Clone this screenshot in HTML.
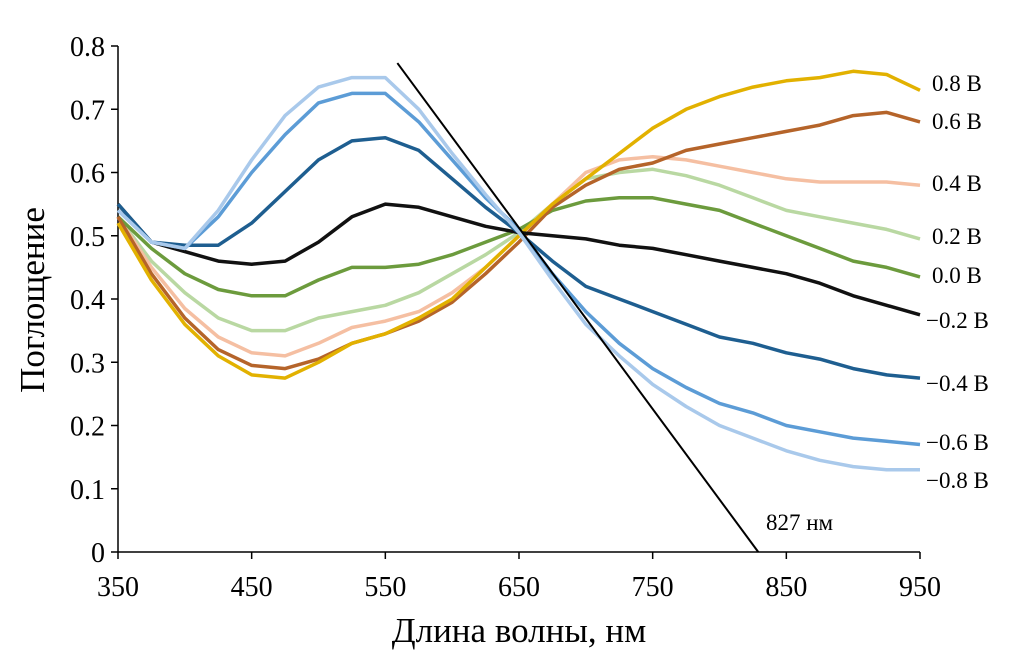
<!DOCTYPE html>
<html><head><meta charset="utf-8"><style>
body{margin:0;background:#fff;}
svg text{font-family:"Liberation Serif","DejaVu Serif",serif;fill:#000;}
</style></head><body>
<svg id="chart" width="1023" height="658" viewBox="0 0 1023 658" xmlns="http://www.w3.org/2000/svg">
<g id="axes"></g>
<g id="series"></g>
<g id="labels"></g>
</svg>
<script>
const wavelengths=[350,375,400,425,450,475,500,525,550,575,600,625,650,675,700,725,750,775,800,825,850,875,900,925,950];
const seriesNames=["0.8 В","0.6 В","0.4 В","0.2 В","0.0 В","−0.2 В","−0.4 В","−0.6 В","−0.8 В"];
const s08=[0.52,0.43,0.36,0.31,0.28,0.275,0.30,0.33,0.345,0.37,0.40,0.45,0.50,0.55,0.59,0.63,0.67,0.70,0.72,0.735,0.745,0.75,0.76,0.755,0.73];
const s06=[0.53,0.44,0.37,0.32,0.295,0.29,0.305,0.33,0.345,0.365,0.395,0.44,0.49,0.545,0.58,0.605,0.615,0.635,0.645,0.655,0.665,0.675,0.69,0.695,0.68];
const s04=[0.53,0.45,0.385,0.34,0.315,0.31,0.33,0.355,0.365,0.38,0.41,0.45,0.50,0.55,0.60,0.62,0.625,0.62,0.61,0.60,0.59,0.585,0.585,0.585,0.58];
const s02=[0.53,0.46,0.41,0.37,0.35,0.35,0.37,0.38,0.39,0.41,0.44,0.47,0.505,0.55,0.59,0.60,0.605,0.595,0.58,0.56,0.54,0.53,0.52,0.51,0.495];
const s00=[0.53,0.48,0.44,0.415,0.405,0.405,0.43,0.45,0.45,0.455,0.47,0.49,0.51,0.54,0.555,0.56,0.56,0.55,0.54,0.52,0.50,0.48,0.46,0.45,0.435];
const sm02=[0.55,0.49,0.475,0.46,0.455,0.46,0.49,0.53,0.55,0.545,0.53,0.515,0.505,0.50,0.495,0.485,0.48,0.47,0.46,0.45,0.44,0.425,0.405,0.39,0.375];
const sm04=[0.55,0.49,0.485,0.485,0.52,0.57,0.62,0.65,0.655,0.635,0.59,0.545,0.505,0.46,0.42,0.40,0.38,0.36,0.34,0.33,0.315,0.305,0.29,0.28,0.275];
const sm06=[0.54,0.49,0.48,0.53,0.60,0.66,0.71,0.725,0.725,0.68,0.62,0.56,0.51,0.44,0.38,0.33,0.29,0.26,0.235,0.22,0.20,0.19,0.18,0.175,0.17];
const sm08=[0.54,0.49,0.48,0.54,0.62,0.69,0.735,0.75,0.75,0.70,0.63,0.565,0.505,0.43,0.36,0.31,0.265,0.23,0.20,0.18,0.16,0.145,0.135,0.13,0.13];
const xTicks=[350,450,550,650,750,850,950];
const yTicks=[0,0.1,0.2,0.3,0.4,0.5,0.6,0.7,0.8];
const tangentX=[559,829];
const tangentY=[0.773,0];

const NS="http://www.w3.org/2000/svg";
const X0=118,X1=920,Y0=552,Y1=46;
const xs=v=>X0+(v-350)/(950-350)*(X1-X0);
const ys=v=>Y0-(v/0.8)*(Y0-Y1);
function mk(tag,attrs,parent){const e=document.createElementNS(NS,tag);for(const k in attrs)e.setAttribute(k,attrs[k]);parent.appendChild(e);return e;}
const axes=document.getElementById('axes'),sg=document.getElementById('series'),lg=document.getElementById('labels');

let l=mk('line',{x1:X0,y1:Y0,x2:X1,y2:Y0,stroke:'#000','stroke-width':1.5},axes);


l=mk('line',{x1:X0,y1:Y0,x2:X0,y2:Y1,stroke:'#000','stroke-width':1.5},axes);


xTicks.forEach(t=>{
  const tk=mk('line',{x1:xs(t),y1:Y0,x2:xs(t),y2:Y0+7,stroke:'#000','stroke-width':1.5},axes);
  
  
  const tx=mk('text',{x:xs(t),y:Y0+44,'text-anchor':'middle','font-size':28},axes);tx.textContent=t;
  
  
});
yTicks.forEach(t=>{
  const tk=mk('line',{x1:X0-7,y1:ys(t),x2:X0,y2:ys(t),stroke:'#000','stroke-width':1.5},axes);
  
  
  const tx=mk('text',{x:X0-13,y:ys(t)+10,'text-anchor':'end','font-size':28},axes);tx.textContent=t===0?'0':t.toFixed(1);
  
  
});
let t=mk('text',{x:519,y:642,'text-anchor':'middle','font-size':35},axes);t.textContent='Длина волны, нм';


t=mk('text',{x:0,y:0,'text-anchor':'middle','font-size':35,transform:'translate(44,300) rotate(-90)'},axes);t.textContent='Поглощение';



const allSeries=[s08,s06,s04,s02,s00,sm02,sm04,sm06,sm08];
const colors=['#E2B100','#B5642A','#F5BFA2','#B9D8A2','#6C9B3D','#111111','#1E5E90','#5C9CD6','#A9C9EB'];
const labelY=[83,121,183,236,275,320,383,442,480];
const drawOrder=[3,2,4,1,0,5,6,7,8];
drawOrder.forEach(i=>{
  const d=allSeries[i].map((v,j)=>(j?'L':'M')+xs(wavelengths[j]).toFixed(1)+','+ys(v).toFixed(1)).join(' ');
  const p=mk('path',{d:d,fill:'none',stroke:colors[i],'stroke-width':3.5,'stroke-linejoin':'round'},sg);
  
  
});
seriesNames.forEach((n,i)=>{
  const tx=mk('text',{x:i>=5?926:932,y:labelY[i]+8,'font-size':23},lg);tx.textContent=n;
  
  
});
l=mk('line',{x1:xs(tangentX[0]),y1:ys(tangentY[0]),x2:xs(tangentX[1]),y2:ys(tangentY[1]),stroke:'#000','stroke-width':2},sg);


t=mk('text',{x:766,y:530,'font-size':23},lg);t.textContent='827 нм';


</script>
</body></html>
